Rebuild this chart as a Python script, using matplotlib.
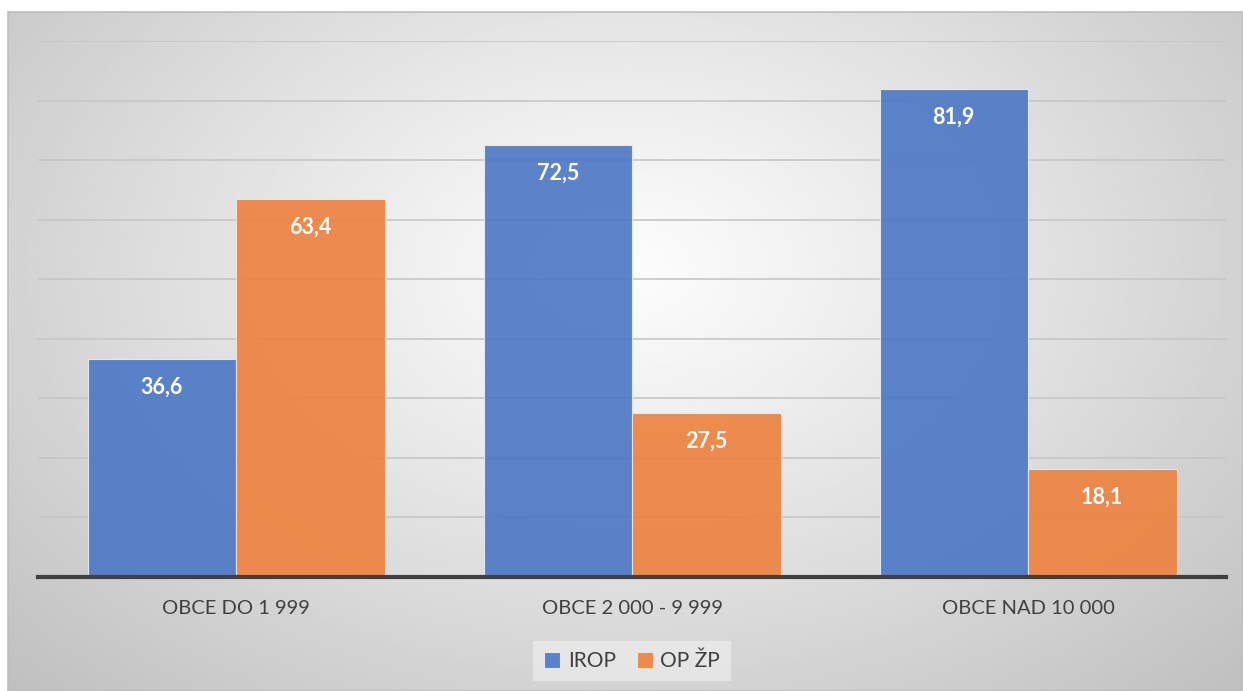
import numpy as np
import matplotlib.pyplot as plt
from matplotlib.patches import Rectangle

# данные
categories = ['OBCE DO 1 999', 'OBCE 2 000 - 9 999', 'OBCE NAD 10 000']
irop = [36.6, 72.5, 81.9]
op_zp = [63.4, 27.5, 18.1]
series_names = ['IROP', 'OP ŽP']

plt.rcParams['font.family'] = ['Lato', 'DejaVu Sans']

W, H = 1243, 691
fig = plt.figure(figsize=(W / 100, H / 100), dpi=100)
fig.patch.set_facecolor('white')

# фон с радиальным градиентом
bg = fig.add_axes([8 / W, 0, 1 - 8 / W, 1 - 12 / H])
yy, xx = np.mgrid[0:1:300j, 0:1:500j]
r = np.sqrt(((xx - 0.5) / 0.5) ** 2 + ((yy - 0.38) / 0.62) ** 2) / np.sqrt(2)
val = np.clip(0.99 - 0.24 * r ** 1.1, 0, 1)
bg.imshow(val, cmap='gray', vmin=0, vmax=1, extent=[0, 1, 1, 0], aspect='auto',
          interpolation='bilinear')
bg.set_xlim(0, 1)
bg.set_ylim(1, 0)
bg.axis('off')
fig.add_artist(Rectangle((8 / W, 0), 1 - 8 / W, 1 - 12 / H, transform=fig.transFigure,
                         fill=False, edgecolor='#bdbdbd', linewidth=1.2))

# основная область
ax = fig.add_axes([38 / W, 1 - 577 / H, (1226 - 38) / W, (577 - 41) / H])
ax.set_facecolor('none')

x = np.arange(len(categories))
w = 0.375
b1 = ax.bar(x - w / 2, irop, w, color='#4B77C5', alpha=0.9, edgecolor='#e8eef8',
            linewidth=0.8, label=series_names[0], zorder=2)
b2 = ax.bar(x + w / 2, op_zp, w, color='#EE813D', alpha=0.9, edgecolor='#fbe5d6',
            linewidth=0.8, label=series_names[1], zorder=2)

for bars in (b1, b2):
    for rect in bars:
        v = rect.get_height()
        ax.annotate(f'{v:.1f}'.replace('.', ','),
                    (rect.get_x() + rect.get_width() / 2, v),
                    xytext=(0, -20), textcoords='offset points',
                    ha='center', va='center', color='white',
                    fontsize=15.5, fontweight='bold', zorder=3)

ax.set_xlim(-0.5, 2.5)
ax.set_ylim(0, 90)
ax.set_yticks(np.arange(10, 91, 10))
ax.yaxis.grid(True, color='#c6c6c6', linewidth=1.2, zorder=1)
ax.set_axisbelow(True)
ax.tick_params(axis='y', left=False, labelleft=False)
ax.set_xticks(x)
ax.set_xticklabels(categories, fontsize=14.5, color='#404040')
ax.tick_params(axis='x', bottom=False, pad=13)
for s in ['top', 'right', 'left']:
    ax.spines[s].set_visible(False)
ax.spines['bottom'].set_color('#404040')
ax.spines['bottom'].set_linewidth(3)
ax.spines['bottom'].set_zorder(4)

leg = fig.legend(loc='center', bbox_to_anchor=(632 / W, 1 - 661 / H), ncol=2,
                 fontsize=15, frameon=True, handlelength=0.8, handleheight=0.8,
                 handletextpad=0.35, columnspacing=1.0, borderpad=0.5,
                 borderaxespad=0, fancybox=False)
leg.get_frame().set_facecolor('white')
leg.get_frame().set_alpha(0.4)
leg.get_frame().set_edgecolor('none')
for t in leg.get_texts():
    t.set_color('#404040')

fig.savefig('out.png', dpi=100)
